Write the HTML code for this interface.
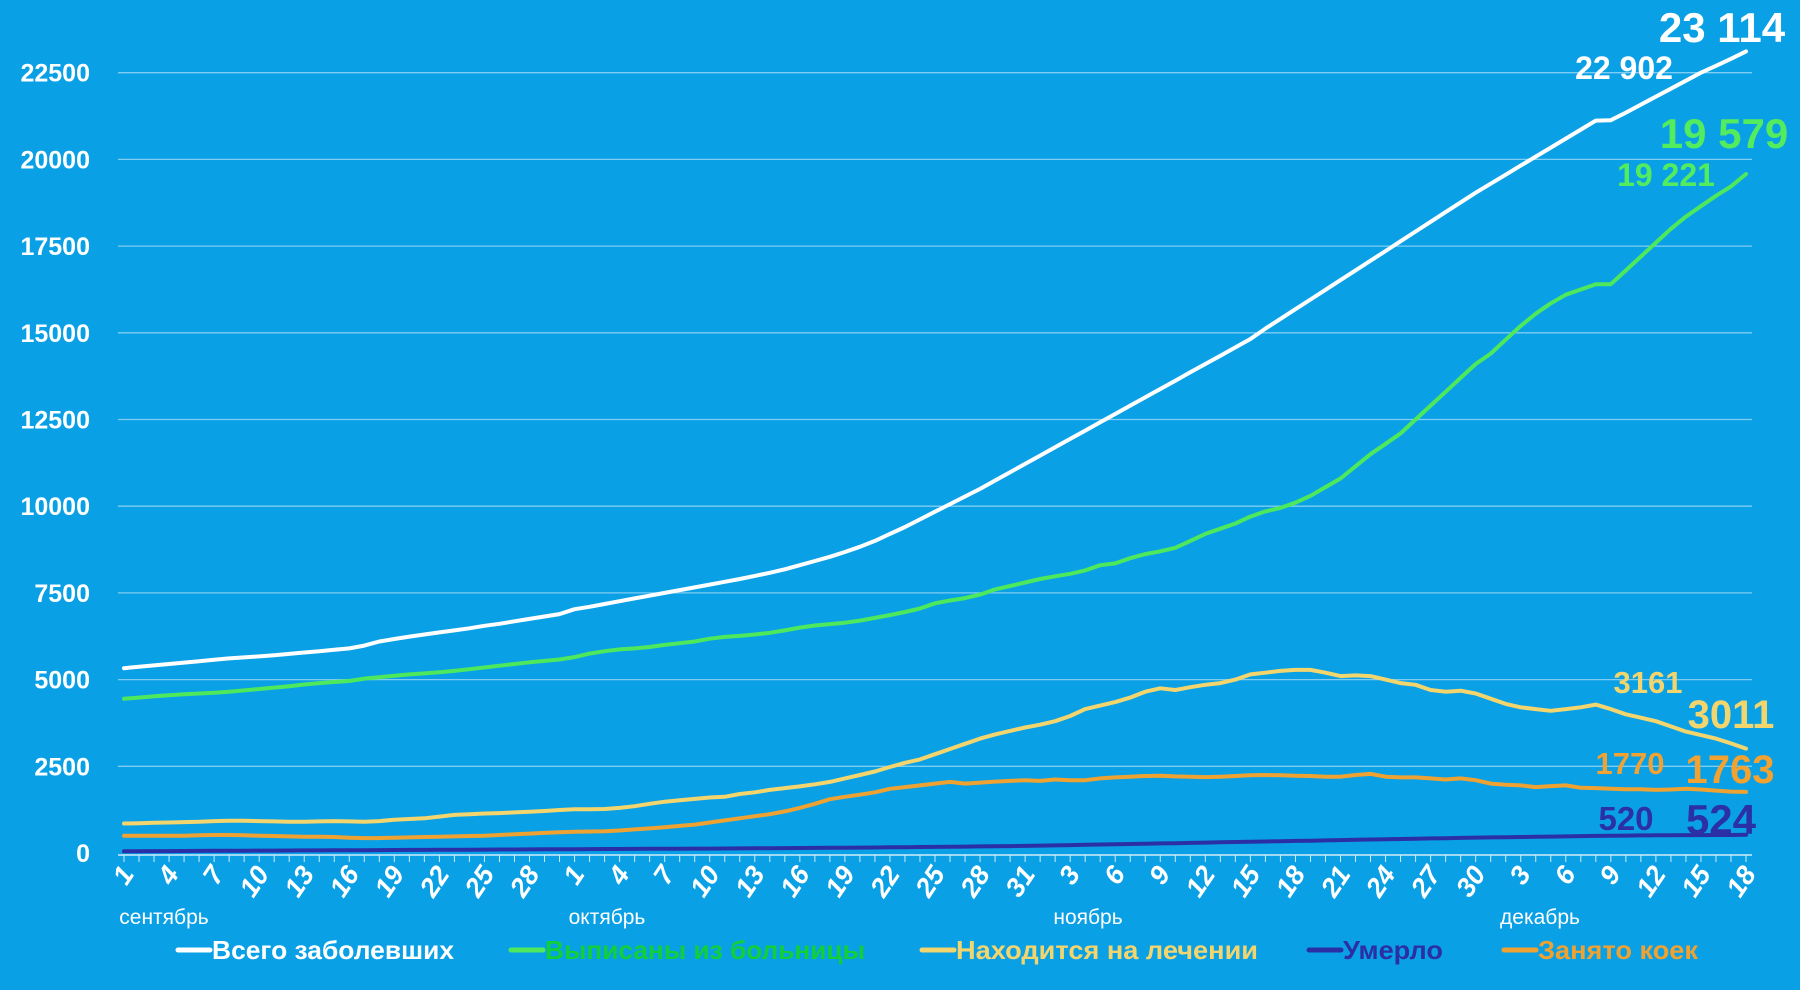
<!DOCTYPE html>
<html><head><meta charset="utf-8"><style>
html,body{margin:0;padding:0;background:#0aa0e6;}
svg{display:block;font-family:"Liberation Sans","DejaVu Sans",sans-serif;}
</style></head><body>
<svg id="chart" width="1800" height="990" viewBox="0 0 1800 990">
<rect x="0" y="0" width="1800" height="990" fill="#0aa0e6"/>
<g id="grid"></g><g id="axis"></g><g id="series"></g><g id="labels"></g><g id="legend"></g>
</svg>
<script>
const yTicks=[0,2500,5000,7500,10000,12500,15000,17500,20000,22500];
const months=["сентябрь","октябрь","ноябрь","декабрь"];
const monthDays=[30,31,30,18];
const total=[5330,5370,5410,5450,5490,5530,5570,5610,5640,5670,5700,5740,5780,5820,5860,5900,5980,6100,6170,6240,6300,6360,6420,6480,6550,6610,6680,6750,6820,6890,
7030,7100,7180,7260,7340,7420,7500,7580,7660,7740,7820,7900,7990,8080,8180,8300,8420,8540,8680,8830,9000,9200,9400,9620,9840,10060,10280,10500,10740,10980,11220,
11460,11700,11940,12180,12420,12660,12900,13140,13380,13620,13860,14100,14340,14580,14820,15120,15400,15680,15960,16240,16520,16800,17080,17360,17640,17920,18200,18480,18760,19040,
19300,19560,19820,20080,20340,20600,20860,21120,21130,21350,21580,21810,22040,22270,22500,22700,22902,23114];
const recovered=[4450,4480,4520,4550,4580,4600,4620,4650,4690,4730,4770,4810,4860,4900,4930,4960,5030,5070,5110,5150,5180,5210,5250,5300,5350,5400,5450,5500,5540,5580,
5650,5750,5820,5870,5900,5940,6000,6050,6100,6180,6230,6260,6300,6350,6420,6500,6560,6600,6640,6700,6780,6860,6950,7050,7200,7280,7350,7450,7600,7700,7800,
7900,7980,8050,8150,8300,8350,8500,8620,8700,8800,9000,9200,9350,9500,9700,9850,9950,10100,10300,10550,10800,11150,11500,11800,12100,12500,12900,13300,13700,14100,
14400,14800,15200,15550,15850,16100,16250,16400,16400,16800,17200,17600,18000,18350,18650,18950,19221,19579];
const active=[850,860,870,880,890,900,920,930,930,920,910,900,900,910,920,910,900,920,960,980,1000,1050,1100,1120,1140,1150,1170,1190,1210,1240,
1260,1260,1270,1300,1350,1420,1480,1520,1560,1600,1620,1700,1750,1820,1870,1920,1980,2050,2150,2250,2350,2480,2600,2700,2850,3000,3150,3300,3420,3520,3620,
3700,3800,3950,4150,4250,4350,4480,4650,4750,4700,4780,4850,4900,5000,5150,5200,5250,5280,5280,5200,5100,5120,5100,5000,4900,4850,4700,4650,4680,4600,
4450,4300,4200,4150,4100,4150,4200,4280,4150,4000,3900,3800,3650,3500,3400,3300,3161,3011];
const deaths=[50,52,54,56,58,60,62,64,66,68,70,72,74,76,78,80,82,84,86,88,90,92,94,96,98,100,102,104,106,108,
110,112,114,116,118,120,122,124,126,128,130,133,136,139,142,145,148,151,154,157,160,164,168,172,176,180,185,190,195,200,205,
212,220,228,236,244,252,260,268,276,284,292,300,308,316,324,332,340,348,356,364,372,380,388,396,404,412,420,428,436,444,
450,456,462,468,474,480,486,492,498,503,507,510,513,515,517,519,520,524];
const beds=[500,500,500,500,500,510,520,520,510,500,490,480,470,470,460,440,430,430,440,450,460,470,480,490,500,520,540,560,580,600,
610,620,630,650,680,710,740,780,820,880,940,1000,1060,1120,1200,1300,1420,1550,1620,1680,1750,1850,1900,1950,2000,2050,2000,2030,2060,2080,2100,
2080,2120,2100,2100,2150,2180,2200,2220,2230,2210,2200,2190,2200,2220,2240,2250,2240,2230,2220,2200,2200,2250,2280,2200,2180,2180,2150,2120,2150,2100,
2000,1970,1950,1900,1930,1950,1880,1870,1850,1840,1840,1820,1830,1850,1830,1800,1770,1763];
const endLabels=[["22 902",16,"total"],["23 114",17,"total"],["19 221",16,"recovered"],["19 579",17,"recovered"],["3161",16,"active"],["3011",17,"active"],["1770",16,"beds"],["1763",17,"beds"],["520",16,"deaths"],["524",17,"deaths"]];

const NS="http://www.w3.org/2000/svg";
const X0=124,X1=1746,Y0=853,YTOP=72.7,VTOP=22500;
const N=total.length;
const xS=i=>X0+(X1-X0)*i/(N-1);
const yS=v=>Y0-(Y0-YTOP)*v/VTOP;
function mk(tag,attrs,parent){const e=document.createElementNS(NS,tag);for(const k in attrs)e.setAttribute(k,attrs[k]);parent.appendChild(e);return e;}
const grid=document.getElementById('grid'),axis=document.getElementById('axis'),ser=document.getElementById('series'),lab=document.getElementById('labels'),leg=document.getElementById('legend');

yTicks.forEach(v=>{
  if(v>0){const l=mk('line',{x1:118,x2:1752,y1:yS(v),y2:yS(v),stroke:'#7fcdf2','stroke-width':1.3},grid);
  
  }
  const t=mk('text',{x:90,y:yS(v)+9,'text-anchor':'end','font-size':25,'font-weight':'bold',fill:'#fff'},axis);
  t.textContent=String(v);
  
  
});
const al=mk('line',{x1:118,x2:1752,y1:Y0+2,y2:Y0+2,stroke:'#cfeefc','stroke-width':1.5},axis);


let idx=0;
monthDays.forEach((nd,m)=>{
  for(let d=1;d<=nd;d++){
    const x=xS(idx);
    const tk=mk('line',{x1:x,x2:x,y1:Y0+2,y2:Y0+9,stroke:'#cfeefc','stroke-width':1},axis);
    
    
    if(idx%3===0){
      const ax=x+11, ay=874;
      const t=mk('text',{x:ax,y:ay,'text-anchor':'end','font-size':27,'font-weight':'bold','font-style':'italic',fill:'#fff',transform:`rotate(-56 ${ax} ${ay})`},axis);
      t.textContent=String(d);
      
      
    }
    idx++;
  }
  const mx=[164,607,1088,1540][m];
  const mt=mk('text',{x:mx,y:924,'text-anchor':'middle','font-size':21,fill:'#fff'},axis);
  mt.textContent=months[m];
  
  
});

const series={total:[total,'#ffffff'],recovered:[recovered,'#4ee85c'],active:[active,'#f3d56e'],beds:[beds,'#eea232'],deaths:[deaths,'#2a2fa8']};
['beds','active','recovered','total','deaths'].forEach(k=>{
  const [arr,c]=series[k];
  const p=mk('polyline',{points:arr.map((v,i)=>xS(i).toFixed(1)+','+yS(v).toFixed(1)).join(' '),fill:'none',stroke:c,'stroke-width':4,'stroke-linejoin':'round','stroke-linecap':'round'},ser);
  
  
});

const labPos={"22 902":[1624,79,32],"23 114":[1722,42,42],"19 221":[1666,186,32],"19 579":[1724,148,42],"3161":[1648,693,31],"3011":[1731,728,40],"1770":[1630,774,31],"1763":[1730,783,40],"520":[1626,830,33],"524":[1721,834,42]};
endLabels.forEach(([txt,i,k])=>{
  const [x,y,fs]=labPos[txt];
  const c=k==='recovered'?'#52ec5e':k==='beds'?'#f2a230':k==='deaths'?'#2b2fa8':series[k][1];
  const t=mk('text',{x:x,y:y,'text-anchor':'middle','font-size':fs,'font-weight':'bold',fill:c},lab);
  t.textContent=txt;
  
  
});

const legendItems=[["Всего заболевших",'#ffffff','#ffffff',178],["Выписаны из больницы",'#4ee85c','#10d03a',511],["Находится на лечении",'#f3d56e','#f3d56e',922],["Умерло",'#2a2fa8','#2a2fa8',1309],["Занято коек",'#eea232','#eea232',1504]];
legendItems.forEach(([txt,lc,tc,x])=>{
  const g=mk('g',{},leg);
  
  
  mk('line',{x1:x,x2:x+32,y1:950,y2:950,stroke:lc,'stroke-width':5,'stroke-linecap':'round'},g);
  const t=mk('text',{x:x+34,y:959,'font-size':26,'font-weight':'bold',fill:tc,textLength:{"Всего заболевших":242,"Выписаны из больницы":320,"Находится на лечении":302,"Умерло":100,"Занято коек":160}[txt],lengthAdjust:'spacingAndGlyphs'},g);
  t.textContent=txt;
});
</script>
</body></html>
